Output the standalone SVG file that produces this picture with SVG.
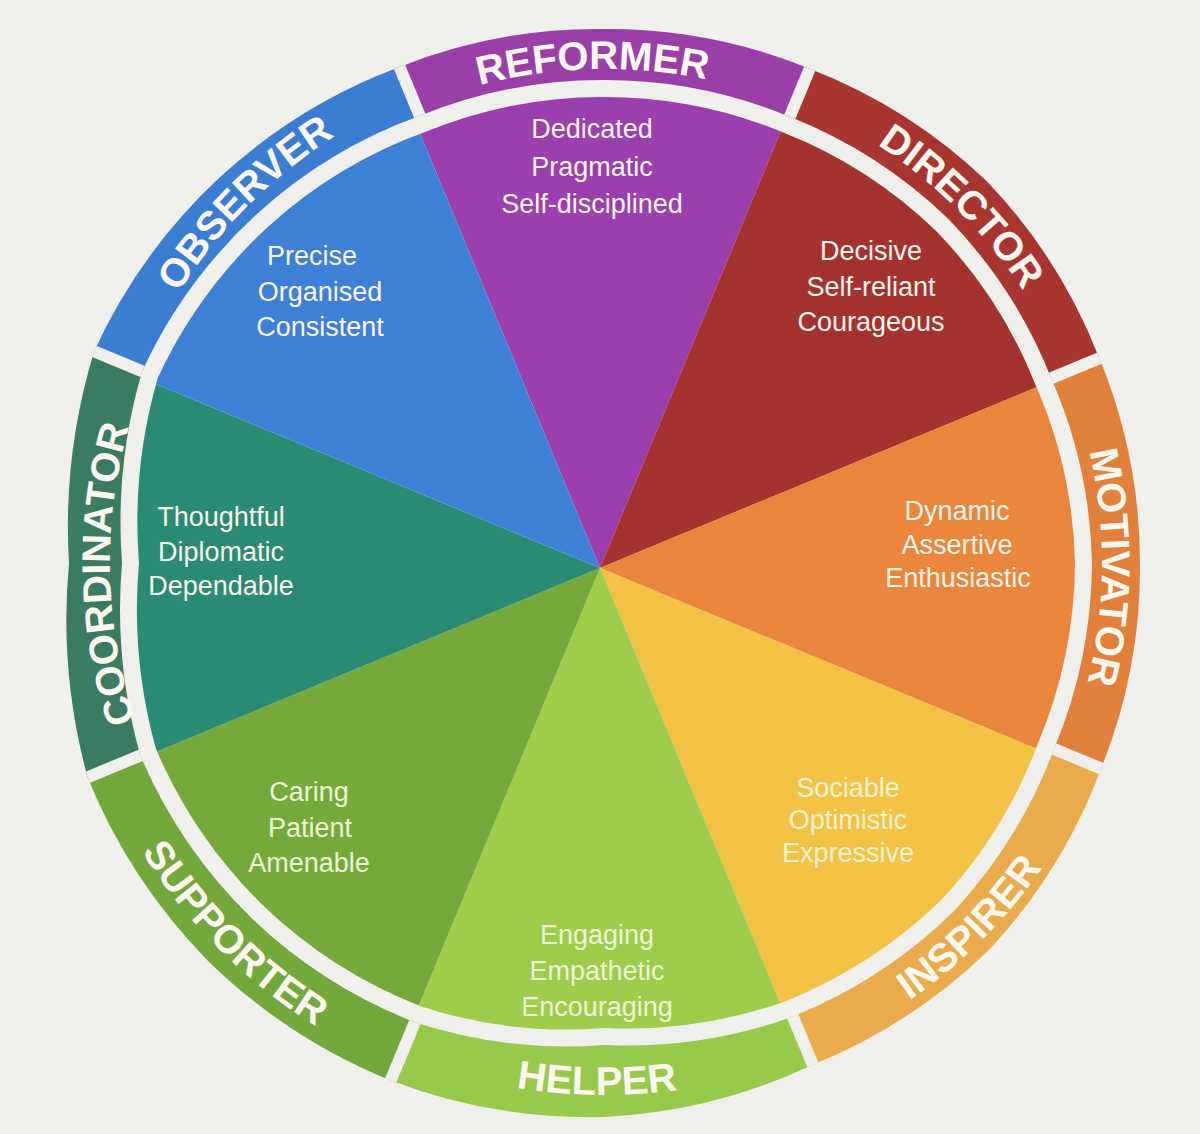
<svg xmlns="http://www.w3.org/2000/svg" xmlns:xlink="http://www.w3.org/1999/xlink" width="1200" height="1134" viewBox="0 0 1200 1134">
<style>
.bg{fill:#efefeb}
.lbl{font-family:"Liberation Sans",Arial,sans-serif;font-weight:bold;font-size:40px;fill:#fbf7ef}
.txt{font-family:"Liberation Sans",Arial,sans-serif;font-size:27px;fill:#f8f4ec;text-anchor:middle}
.pale{fill:#fbf1d2}
.paleg{fill:#ecf6d8}
.sep{stroke:#efefeb;stroke-width:12}
</style>
<defs>
<clipPath id="pie"><path d="M605,97 A468,468 0 0,1 783.3,132.5 A468,468 0 0,1 936.6,231.4 A468,468 0 0,1 1035.5,384.7 A468,468 0 0,1 1075,563 A470,470 0 0,1 1038.3,742.5 A472,472 0 0,1 941.6,899.6 A475,475 0 0,1 786.4,1000.9 A470,470 0 0,1 605,1028 A472,472 0 0,1 421.3,1006.5 A482,482 0 0,1 262.8,905.2 A485,485 0 0,1 156,749 A520,520 0 0,1 139,563 A520,520 0 0,1 157.8,377.8 A480,480 0 0,1 268.4,226.4 A472,472 0 0,1 426.3,131.5 A466,466 0 0,1 605,97 Z"/></clipPath>
<clipPath id="ring"><path clip-rule="evenodd" d="M605,29 A535,535 0 0,1 809.7,68.7 A537,537 0 0,1 986.8,181.2 A537,537 0 0,1 1099.3,358.3 A535,535 0 0,1 1140,563 A536,536 0 0,1 1101.1,768.5 A541,541 0 0,1 990.4,948.4 A544,544 0 0,1 812.8,1064.7 A548,548 0 0,1 605,1117 A557,557 0 0,1 390.7,1080.4 A561,561 0 0,1 207.6,960.4 A561,561 0 0,1 87.6,777.3 A600,600 0 0,1 69,563 A600,600 0 0,1 94.1,351.4 A549,549 0 0,1 219.6,177.6 A541,541 0 0,1 399.5,66.9 A535,535 0 0,1 605,29 Z M605,80 A483,483 0 0,1 789.8,116.8 A485,485 0 0,1 948.7,219.3 A485,485 0 0,1 1051.2,378.2 A485,485 0 0,1 1092,563 A487,487 0 0,1 1054,749 A490,490 0 0,1 953.6,911.6 A492,492 0 0,1 792.9,1016.6 A487,487 0 0,1 605,1045 A490,490 0 0,1 414.8,1022.2 A499,499 0 0,1 250.7,917.3 A502,502 0 0,1 140.3,755.5 A540,540 0 0,1 122,563 A540,540 0 0,1 142.1,371.3 A497,497 0 0,1 256.4,214.4 A489,489 0 0,1 419.8,115.8 A483,483 0 0,1 605,80 Z"/></clipPath>
<path id="p-reformer" d="M287.5,184.6 A494,494 0 0,1 922.5,184.6"/>
<path id="p-director" d="M648.5,65.9 A499,499 0 0,1 1102.1,519.5"/>
<path id="p-motivator" d="M985.7,243.5 A497,497 0 0,1 985.7,882.5"/>
<path id="p-coordinator" d="M225.8,881.2 A495,495 0 0,1 225.8,244.8"/>
<path id="p-observer" d="M101.9,519 A505,505 0 0,1 561,59.9"/>
<path id="p-helper" d="M263,970.5 A532,532 0 0,0 947,970.5"/>
<path id="p-inspirer" d="M651.5,1094 A533,533 0 0,0 1136,609.5"/>
<path id="p-supporter" d="M61.1,610.6 A546,546 0 0,0 557.4,1106.9"/>
</defs>
<rect class="bg" x="0" y="0" width="1200" height="1134"/>

<g id="reformer">
<polygon clip-path="url(#pie)" fill="#9b3fae" points="600,568 293.9,-171.1 906.1,-171.1"/>
<polygon clip-path="url(#ring)" fill="#9a3fa8" points="605,563 298.9,-176.1 911.1,-176.1"/>
</g>
<g id="director">
<polygon clip-path="url(#pie)" fill="#a4332e" points="600,568 906.1,-171.1 1339.1,261.9"/>
<polygon clip-path="url(#ring)" fill="#a8362f" points="605,563 911.1,-176.1 1344.1,256.9"/>
</g>
<g id="motivator">
<polygon clip-path="url(#pie)" fill="#e9863c" points="600,568 1339.1,261.9 1339.1,874.1"/>
<polygon clip-path="url(#ring)" fill="#e1803a" points="605,563 1344.1,256.9 1344.1,869.1"/>
</g>
<g id="inspirer">
<polygon clip-path="url(#pie)" fill="#f1c244" points="600,568 1339.1,874.1 906.1,1307.1"/>
<polygon clip-path="url(#ring)" fill="#eaab4c" points="605,563 1344.1,869.1 911.1,1302.1"/>
</g>
<g id="helper">
<polygon clip-path="url(#pie)" fill="#9dcd4b" points="600,568 906.1,1307.1 293.9,1307.1"/>
<polygon clip-path="url(#ring)" fill="#97c94b" points="605,563 911.1,1302.1 298.9,1302.1"/>
</g>
<g id="supporter">
<polygon clip-path="url(#pie)" fill="#76a93b" points="600,568 293.9,1307.1 -139.1,874.1"/>
<polygon clip-path="url(#ring)" fill="#73a83d" points="605,563 298.9,1302.1 -134.1,869.1"/>
</g>
<g id="coordinator">
<polygon clip-path="url(#pie)" fill="#2b8a73" points="600,568 -139.1,874.1 -139.1,261.9"/>
<polygon clip-path="url(#ring)" fill="#3b7b64" points="605,563 -134.1,869.1 -134.1,256.9"/>
</g>
<g id="observer">
<polygon clip-path="url(#pie)" fill="#3e80d6" points="600,568 -139.1,261.9 293.9,-171.1"/>
<polygon clip-path="url(#ring)" fill="#3a7dd3" points="605,563 -134.1,256.9 298.9,-176.1"/>
</g>

<g id="separators" clip-path="url(#ring)">
<line class="sep" x1="605" y1="563" x2="298.9" y2="-176.1"/>
<line class="sep" x1="605" y1="563" x2="911.1" y2="-176.1"/>
<line class="sep" x1="605" y1="563" x2="1344.1" y2="256.9"/>
<line class="sep" x1="605" y1="563" x2="1344.1" y2="869.1"/>
<line class="sep" x1="605" y1="563" x2="911.1" y2="1302.1"/>
<line class="sep" x1="605" y1="563" x2="298.9" y2="1302.1"/>
<line class="sep" x1="605" y1="563" x2="-134.1" y2="869.1"/>
<line class="sep" x1="605" y1="563" x2="-134.1" y2="256.9"/>
</g>

<g id="reformer-text">
<text class="lbl" text-anchor="middle"><textPath xlink:href="#p-reformer" href="#p-reformer" startOffset="48.2%">REFORMER</textPath></text>
<text class="txt" x="592" y="138">Dedicated</text>
<text class="txt" x="592" y="176">Pragmatic</text>
<text class="txt" x="592" y="213">Self-disciplined</text>
</g>
<g id="director-text">
<text class="lbl" text-anchor="middle"><textPath xlink:href="#p-director" href="#p-director" startOffset="50%">DIRECTOR</textPath></text>
<text class="txt" x="871" y="260">Decisive</text>
<text class="txt" x="871" y="296">Self-reliant</text>
<text class="txt" x="871" y="331">Courageous</text>
</g>
<g id="motivator-text">
<text class="lbl" text-anchor="middle"><textPath xlink:href="#p-motivator" href="#p-motivator" startOffset="50.6%">MOTIVATOR</textPath></text>
<text class="txt" x="957" y="520">Dynamic</text>
<text class="txt" x="957" y="554">Assertive</text>
<text class="txt" x="958" y="587">Enthusiastic</text>
</g>
<g id="inspirer-text">
<text class="lbl" text-anchor="middle"><textPath xlink:href="#p-inspirer" href="#p-inspirer" startOffset="50%">INSPIRER</textPath></text>
<text class="txt pale" x="848" y="797">Sociable</text>
<text class="txt pale" x="848" y="829">Optimistic</text>
<text class="txt pale" x="848" y="862">Expressive</text>
</g>
<g id="helper-text">
<text class="lbl" text-anchor="middle"><textPath xlink:href="#p-helper" href="#p-helper" startOffset="48.9%">HELPER</textPath></text>
<text class="txt paleg" x="597" y="944">Engaging</text>
<text class="txt paleg" x="597" y="980">Empathetic</text>
<text class="txt paleg" x="597" y="1016">Encouraging</text>
</g>
<g id="supporter-text">
<text class="lbl" text-anchor="middle"><textPath xlink:href="#p-supporter" href="#p-supporter" startOffset="50%">SUPPORTER</textPath></text>
<text class="txt paleg" x="309" y="801">Caring</text>
<text class="txt paleg" x="310" y="837">Patient</text>
<text class="txt paleg" x="309" y="872">Amenable</text>
</g>
<g id="coordinator-text">
<text class="lbl" text-anchor="middle"><textPath xlink:href="#p-coordinator" href="#p-coordinator" startOffset="48.4%">COORDINATOR</textPath></text>
<text class="txt" x="221" y="526">Thoughtful</text>
<text class="txt" x="221" y="561">Diplomatic</text>
<text class="txt" x="221" y="595">Dependable</text>
</g>
<g id="observer-text">
<text class="lbl" text-anchor="middle"><textPath xlink:href="#p-observer" href="#p-observer" startOffset="50%">OBSERVER</textPath></text>
<text class="txt" x="312" y="265">Precise</text>
<text class="txt" x="320" y="301">Organised</text>
<text class="txt" x="320" y="336">Consistent</text>
</g>
</svg>
